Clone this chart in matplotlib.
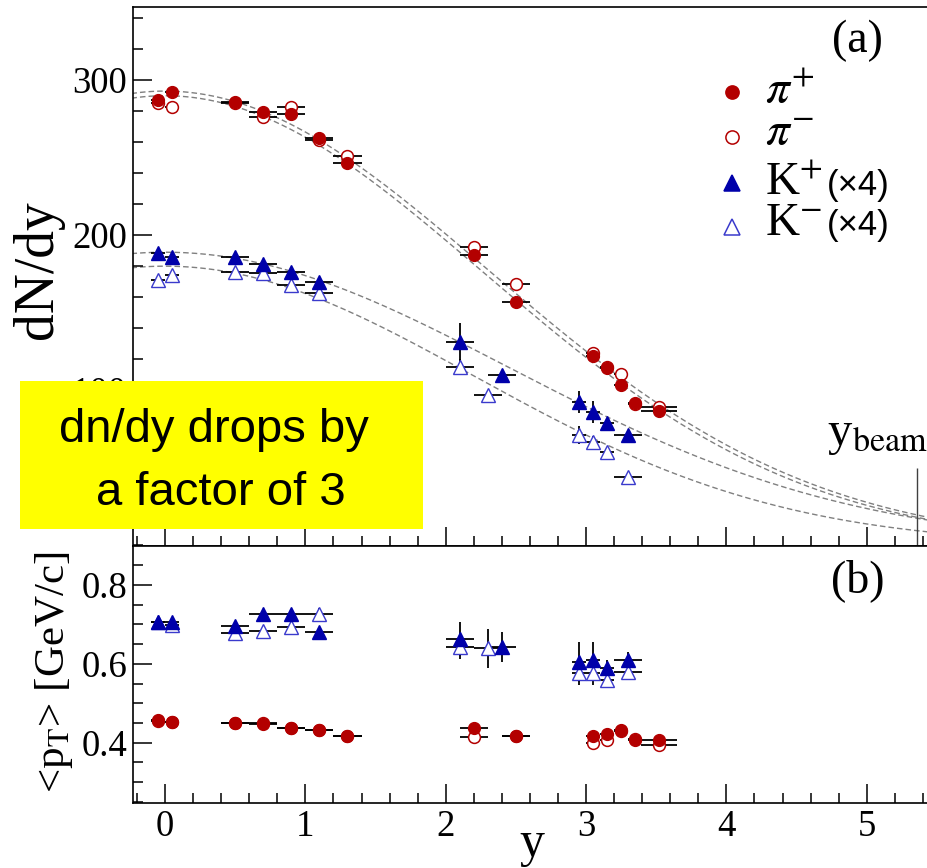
import numpy as np
from matplotlib import pyplot as plt
from matplotlib import ticker
from matplotlib.patches import Rectangle

plt.rcParams['font.family'] = ['Liberation Serif', 'DejaVu Serif']
plt.rcParams['mathtext.fontset'] = 'stix'

# pions: rapidity bins, half widths, dN/dy and <pT>
y_pi = [-0.05, 0.05, 0.5, 0.7, 0.9, 1.1, 1.3, 2.2, 2.5, 3.05, 3.15, 3.25, 3.35, 3.52]
dy_pi = [0.05, 0.05, 0.1, 0.1, 0.1, 0.1, 0.1, 0.1, 0.1, 0.05, 0.05, 0.05, 0.05, 0.13]
dndy_pip = [287.5, 292.5, 286.0, 279.2, 277.9, 262.8, 246.6, 187.0, 157.0, 121.9, 114.0, 103.2, 91.4, 86.7]
dndy_pim = [285.4, 282.8, 285.5, 276.3, 282.4, 261.3, 251.0, 192.5, 168.2, 123.7, 115.0, 110.3, 91.0, 89.3]
dndy_err_pi = [2, 3, 2, 2, 2, 2, 2, 3, 4, 3, 3, 3, 3, 3]
pt_pip = [0.457, 0.453, 0.449, 0.447, 0.436, 0.432, 0.417, 0.436, 0.418, 0.417, 0.421, 0.432, 0.408, 0.406]
pt_pim = [0.455, 0.452, 0.451, 0.449, 0.437, 0.433, 0.417, 0.415, 0.418, 0.400, 0.408, 0.430, 0.410, 0.393]
pt_err_pi = [0.005, 0.005, 0.005, 0.005, 0.005, 0.005, 0.005, 0.006, 0.006, 0.006, 0.006, 0.006, 0.006, 0.006]

# kaons (dN/dy scaled by 4)
y_kp = [-0.05, 0.05, 0.5, 0.7, 0.9, 1.1, 2.1, 2.4, 2.95, 3.05, 3.15, 3.3]
y_km = [-0.05, 0.05, 0.5, 0.7, 0.9, 1.1, 2.1, 2.3, 2.95, 3.05, 3.15, 3.3]
dy_k = [0.05, 0.05, 0.1, 0.1, 0.1, 0.1, 0.1, 0.1, 0.05, 0.05, 0.05, 0.1]
dndy_kp = [188.6, 186.0, 185.6, 181.3, 176.3, 170.0, 131.2, 109.7, 92.5, 86.0, 78.5, 71.0]
dndy_km = [171.0, 174.2, 176.3, 175.3, 167.7, 162.4, 115.0, 96.8, 71.0, 66.7, 60.2, 44.0]
dndy_err_kp = [2, 2, 2, 2, 2, 2, 12, 3, 7, 7, 3, 3]
dndy_err_km = [2, 2, 2, 2, 2, 2, 5, 3, 6, 4, 3, 2]
pt_kp = [0.707, 0.707, 0.696, 0.726, 0.726, 0.681, 0.662, 0.643, 0.605, 0.610, 0.589, 0.610]
pt_km = [0.705, 0.699, 0.679, 0.684, 0.694, 0.726, 0.642, 0.639, 0.576, 0.576, 0.559, 0.580]
pt_err_kp = [0.008, 0.008, 0.008, 0.008, 0.008, 0.008, 0.043, 0.038, 0.05, 0.045, 0.02, 0.02]
pt_err_km = [0.008, 0.008, 0.008, 0.008, 0.008, 0.015, 0.03, 0.049, 0.03, 0.03, 0.02, 0.02]

# gaussian fits to dN/dy: pi+, pi-, K+, K-
fit_amp = [293.0, 290.0, 189.0, 180.0]
fit_sigma = [2.30, 2.27, 2.45, 2.20]

y_beam = 5.36

red = '#b30000'
blue = '#0000aa'
lightblue = '#3a3acc'

fig = plt.figure(figsize=(9.27, 8.68), dpi=100)
ax1 = fig.add_axes([0.1435, 0.3710, 0.8598, 0.6210])
ax2 = fig.add_axes([0.1435, 0.0749, 0.8598, 0.2961], sharex=ax1)

# fit curves
yy = np.linspace(-0.3, 5.6, 400)
for amp, sig in zip(fit_amp, fit_sigma):
    ax1.plot(yy, amp * np.exp(-yy**2 / (2 * sig**2)), color='#808080',
             lw=1.0, dashes=(4, 2.2), zorder=1)

ebar = dict(fmt='none', ecolor='black', elinewidth=1.3, capsize=0, zorder=2)

# (a) dN/dy
ax1.errorbar(y_pi, dndy_pim, xerr=dy_pi, yerr=dndy_err_pi, **ebar)
ax1.errorbar(y_pi, dndy_pip, xerr=dy_pi, yerr=dndy_err_pi, **ebar)
ax1.errorbar(y_km, dndy_km, xerr=dy_k, yerr=dndy_err_km, **ebar)
ax1.errorbar(y_kp, dndy_kp, xerr=dy_k, yerr=dndy_err_kp, **ebar)
ax1.plot(y_pi, dndy_pim, 'o', ms=8.5, mfc='white', mec=red, mew=1.1, ls='none', zorder=3)
ax1.plot(y_km, dndy_km, '^', ms=10, mfc='white', mec=lightblue, mew=1.0, ls='none', zorder=3)
ax1.plot(y_pi, dndy_pip, 'o', ms=8.5, mfc=red, mec=red, ls='none', zorder=4)
ax1.plot(y_kp, dndy_kp, '^', ms=10, mfc=blue, mec=blue, ls='none', zorder=4)

ax1.vlines(y_beam, 0, 50, color='#404040', lw=1.0)
ax1.text(4.72, 64.5, r'y$_{\mathrm{beam}}$', fontsize=35, va='baseline', ha='left')

# (b) <pT>
ax2.errorbar(y_pi, pt_pim, xerr=dy_pi, yerr=pt_err_pi, **ebar)
ax2.errorbar(y_pi, pt_pip, xerr=dy_pi, yerr=pt_err_pi, **ebar)
ax2.errorbar(y_km, pt_km, xerr=dy_k, yerr=pt_err_km, **ebar)
ax2.errorbar(y_kp, pt_kp, xerr=dy_k, yerr=pt_err_kp, **ebar)
ax2.plot(y_pi, pt_pim, 'o', ms=8.5, mfc='white', mec=red, mew=1.1, ls='none', zorder=3)
ax2.plot(y_km, pt_km, '^', ms=10, mfc='white', mec=lightblue, mew=1.0, ls='none', zorder=3)
ax2.plot(y_pi, pt_pip, 'o', ms=8.5, mfc=red, mec=red, ls='none', zorder=4)
ax2.plot(y_kp, pt_kp, '^', ms=10, mfc=blue, mec=blue, ls='none', zorder=4)

# legend, drawn by hand so the scale factors can sit in a smaller sans font
legend_rows = [
    ('o', red, red, r'$\pi^{+}$', '', 0.8424, 0.8214),
    ('o', 'white', red, r'$\pi^{-}$', '', 0.7590, 0.7436),
    ('^', blue, blue, r'K$^{+}$', u'(\u00d74)', 0.6737, 0.6508),
    ('^', 'white', lightblue, r'K$^{-}$', u'(\u00d74)', 0.5920, 0.5767),
]
for mk, fc, ec, lab, scale, ym, yt in legend_rows:
    ax1.plot([0.7516], [ym], mk, ms=9.5 if mk == 'o' else 11, mfc=fc, mec=ec,
             mew=1.1, transform=ax1.transAxes, clip_on=False)
    ax1.text(0.793, yt, lab, fontsize=34, transform=ax1.transAxes, va='baseline')
    if scale:
        ax1.text(0.8708, yt, scale, fontsize=25, family='Liberation Sans',
                 transform=ax1.transAxes, va='baseline')

ax1.text(0.9084, 0.938, '(a)', fontsize=33, transform=ax1.transAxes, ha='center', va='center')
ax2.text(0.9097, 0.864, '(b)', fontsize=33, transform=ax2.transAxes, ha='center', va='center')

# axes
ax1.set_xlim(-0.228, 5.451)
ax1.set_ylim(-0.6, 347.3)
ax2.set_ylim(0.247, 0.899)

ax1.xaxis.set_major_locator(ticker.MultipleLocator(1))
ax1.xaxis.set_minor_locator(ticker.MultipleLocator(0.2))
ax1.yaxis.set_major_locator(ticker.FixedLocator([100, 200, 300]))
ax1.yaxis.set_minor_locator(ticker.MultipleLocator(20))
ax2.yaxis.set_major_locator(ticker.MultipleLocator(0.2))
ax2.yaxis.set_minor_locator(ticker.MultipleLocator(0.05))
ax2.yaxis.set_major_formatter(ticker.FormatStrFormatter('%.1f'))

for ax in (ax1, ax2):
    ax.tick_params(which='both', direction='in', top=False, right=False,
                   width=1.1, labelsize=26.5)
    ax.tick_params(which='major', length=13.5)
    ax.tick_params(which='minor', length=7)
    ax.tick_params(axis='y', pad=4.3)
    ax.tick_params(axis='x', pad=5)
    for sp in ax.spines.values():
        sp.set_linewidth(1.2)
ax1.tick_params(labelbottom=False)

ax1.set_ylabel('dN/dy', fontsize=40, va='baseline')
ax1.yaxis.set_label_coords(-0.1016, 0.512)
ax2.set_ylabel(r'<p$_{\mathrm{T}}$> [GeV/c]', fontsize=31, va='baseline')
ax2.yaxis.set_label_coords(-0.0866, 0.508)
ax2.set_xlabel('y', fontsize=36, va='baseline')
ax2.xaxis.set_label_coords(0.5, -0.2054)

# highlighted remark on top of the figure
fig.add_artist(Rectangle((20 / 927, 1 - 529 / 868), 403 / 927, 148 / 868,
                         transform=fig.transFigure, facecolor='#ffff00',
                         edgecolor='none', zorder=10))
fig.text(214 / 927, 0.4908, 'dn/dy drops by', fontsize=34, family='Liberation Sans',
         ha='center', va='baseline', zorder=11)
fig.text(221 / 927, 0.4182, 'a factor of 3', fontsize=34, family='Liberation Sans',
         ha='center', va='baseline', zorder=11)

fig.savefig('out.png', dpi=100)
